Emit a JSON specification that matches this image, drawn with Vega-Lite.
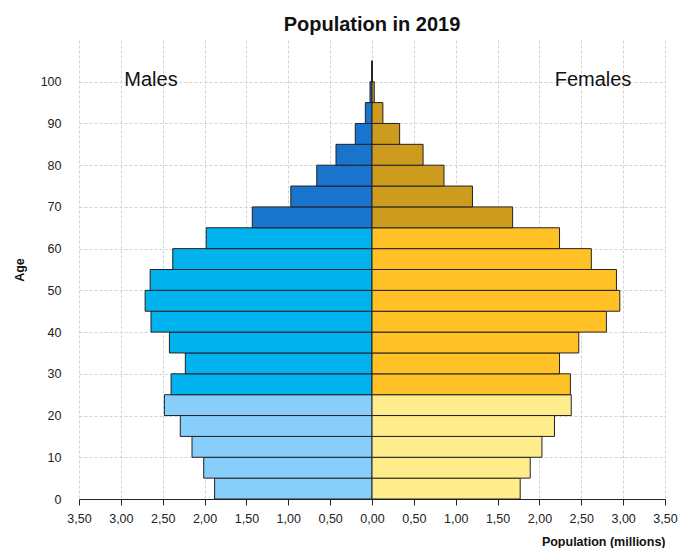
{
  "$schema": "https://vega.github.io/schema/vega-lite/v6.json",
  "autosize": {"type": "none"},
  "width": 586,
  "height": 459,
  "padding": {"left": 79, "top": 40, "right": 14, "bottom": 49},
  "title": {"text": "Population in 2019", "font": "Liberation Sans", "fontSize": 20, "fontWeight": "bold", "color": "#111111", "anchor": "middle", "baseline": "alphabetic", "offset": -11},
  "config": {"view": {"stroke": null}, "font": "Liberation Sans"},
  "datasets": {
    "pop": [
      {"age_start": 0, "age_end": 5, "sex": "Males", "group": "Males 0-24", "value": -1.88},
      {"age_start": 5, "age_end": 10, "sex": "Males", "group": "Males 0-24", "value": -2.01},
      {"age_start": 10, "age_end": 15, "sex": "Males", "group": "Males 0-24", "value": -2.15},
      {"age_start": 15, "age_end": 20, "sex": "Males", "group": "Males 0-24", "value": -2.29},
      {"age_start": 20, "age_end": 25, "sex": "Males", "group": "Males 0-24", "value": -2.48},
      {"age_start": 25, "age_end": 30, "sex": "Males", "group": "Males 25-64", "value": -2.40},
      {"age_start": 30, "age_end": 35, "sex": "Males", "group": "Males 25-64", "value": -2.23},
      {"age_start": 35, "age_end": 40, "sex": "Males", "group": "Males 25-64", "value": -2.42},
      {"age_start": 40, "age_end": 45, "sex": "Males", "group": "Males 25-64", "value": -2.64},
      {"age_start": 45, "age_end": 50, "sex": "Males", "group": "Males 25-64", "value": -2.71},
      {"age_start": 50, "age_end": 55, "sex": "Males", "group": "Males 25-64", "value": -2.65},
      {"age_start": 55, "age_end": 60, "sex": "Males", "group": "Males 25-64", "value": -2.38},
      {"age_start": 60, "age_end": 65, "sex": "Males", "group": "Males 25-64", "value": -1.98},
      {"age_start": 65, "age_end": 70, "sex": "Males", "group": "Males 65+", "value": -1.43},
      {"age_start": 70, "age_end": 75, "sex": "Males", "group": "Males 65+", "value": -0.97},
      {"age_start": 75, "age_end": 80, "sex": "Males", "group": "Males 65+", "value": -0.66},
      {"age_start": 80, "age_end": 85, "sex": "Males", "group": "Males 65+", "value": -0.43},
      {"age_start": 85, "age_end": 90, "sex": "Males", "group": "Males 65+", "value": -0.20},
      {"age_start": 90, "age_end": 95, "sex": "Males", "group": "Males 65+", "value": -0.08},
      {"age_start": 95, "age_end": 100, "sex": "Males", "group": "Males 65+", "value": -0.024},
      {"age_start": 100, "age_end": 105, "sex": "Males", "group": "Males 65+", "value": -0.003},
      {"age_start": 0, "age_end": 5, "sex": "Females", "group": "Females 0-24", "value": 1.77},
      {"age_start": 5, "age_end": 10, "sex": "Females", "group": "Females 0-24", "value": 1.89},
      {"age_start": 10, "age_end": 15, "sex": "Females", "group": "Females 0-24", "value": 2.03},
      {"age_start": 15, "age_end": 20, "sex": "Females", "group": "Females 0-24", "value": 2.18},
      {"age_start": 20, "age_end": 25, "sex": "Females", "group": "Females 0-24", "value": 2.38},
      {"age_start": 25, "age_end": 30, "sex": "Females", "group": "Females 25-64", "value": 2.37},
      {"age_start": 30, "age_end": 35, "sex": "Females", "group": "Females 25-64", "value": 2.24},
      {"age_start": 35, "age_end": 40, "sex": "Females", "group": "Females 25-64", "value": 2.47},
      {"age_start": 40, "age_end": 45, "sex": "Females", "group": "Females 25-64", "value": 2.80},
      {"age_start": 45, "age_end": 50, "sex": "Females", "group": "Females 25-64", "value": 2.96},
      {"age_start": 50, "age_end": 55, "sex": "Females", "group": "Females 25-64", "value": 2.92},
      {"age_start": 55, "age_end": 60, "sex": "Females", "group": "Females 25-64", "value": 2.62},
      {"age_start": 60, "age_end": 65, "sex": "Females", "group": "Females 25-64", "value": 2.24},
      {"age_start": 65, "age_end": 70, "sex": "Females", "group": "Females 65+", "value": 1.68},
      {"age_start": 70, "age_end": 75, "sex": "Females", "group": "Females 65+", "value": 1.20},
      {"age_start": 75, "age_end": 80, "sex": "Females", "group": "Females 65+", "value": 0.86},
      {"age_start": 80, "age_end": 85, "sex": "Females", "group": "Females 65+", "value": 0.61},
      {"age_start": 85, "age_end": 90, "sex": "Females", "group": "Females 65+", "value": 0.33},
      {"age_start": 90, "age_end": 95, "sex": "Females", "group": "Females 65+", "value": 0.13},
      {"age_start": 95, "age_end": 100, "sex": "Females", "group": "Females 65+", "value": 0.027},
      {"age_start": 100, "age_end": 105, "sex": "Females", "group": "Females 65+", "value": 0.005}
    ]
  },
  "layer": [
    {
      "data": {"name": "pop"},
      "mark": {"type": "rect", "stroke": "#222222", "strokeWidth": 1},
      "encoding": {
        "x": {
          "field": "value",
          "type": "quantitative",
          "scale": {"domain": [-3.5, 3.5], "nice": false, "zero": false},
          "axis": {
            "title": "Population (millions)",
            "titleFont": "Liberation Sans",
            "titleFontSize": 12.5,
            "titleFontWeight": "bold",
            "titleColor": "#111111",
            "titleAnchor": "end",
            "titleAlign": "right",
            "titleX": 586,
            "titleY": 46,
            "titleBaseline": "alphabetic",
            "values": [-3.5, -3, -2.5, -2, -1.5, -1, -0.5, 0, 0.5, 1, 1.5, 2, 2.5, 3, 3.5],
            "labelExpr": "replace(format(abs(datum.value), '.2f'), '.', ',')",
            "labelFont": "Liberation Sans",
            "labelFontSize": 12.5,
            "labelColor": "#222222",
            "labelPadding": 7,
            "labelFlush": false,
            "labelOverlap": false,
            "tickSize": 6,
            "tickColor": "#222222",
            "domainColor": "#222222",
            "grid": true,
            "gridColor": "#d3d3d3",
            "gridDash": [3, 2]
          }
        },
        "x2": {"datum": 0},
        "y": {
          "field": "age_start",
          "type": "quantitative",
          "scale": {"domain": [0, 110], "nice": false},
          "axis": {
            "title": "Age",
            "titleFont": "Liberation Sans",
            "titleFontSize": 12.5,
            "titleFontWeight": "bold",
            "titleColor": "#111111",
            "titleAngle": -90,
            "titleAlign": "center",
            "titleBaseline": "alphabetic",
            "titleX": -56,
            "titleY": 229.5,
            "values": [0, 10, 20, 30, 40, 50, 60, 70, 80, 90, 100],
            "labelFont": "Liberation Sans",
            "labelFontSize": 12.5,
            "labelColor": "#222222",
            "labelPadding": 18,
            "ticks": false,
            "domain": false,
            "grid": true,
            "gridColor": "#d3d3d3",
            "gridDash": [3, 2]
          }
        },
        "y2": {"field": "age_end"},
        "color": {
          "field": "group",
          "type": "nominal",
          "scale": {
            "domain": ["Males 0-24", "Males 25-64", "Males 65+", "Females 0-24", "Females 25-64", "Females 65+"],
            "range": ["#87CEFA", "#00B2EE", "#1874CD", "#FFEC8B", "#FFC125", "#CD9B1D"]
          },
          "legend": null
        }
      }
    },
    {
      "mark": {"type": "rule", "color": "#111111", "strokeWidth": 1},
      "encoding": {
        "x": {"datum": -3.5, "type": "quantitative"},
        "y": {"datum": 0, "type": "quantitative"},
        "y2": {"datum": 100}
      }
    },
    {
      "data": {"values": [{"label": "Males"}]},
      "mark": {"type": "text", "font": "Liberation Sans", "fontSize": 20, "align": "center", "baseline": "alphabetic", "color": "#111111"},
      "encoding": {
        "x": {"datum": -2.64, "type": "quantitative"},
        "y": {"datum": 99, "type": "quantitative"},
        "text": {"field": "label", "type": "nominal"}
      }
    },
    {
      "data": {"values": [{"label": "Females"}]},
      "mark": {"type": "text", "font": "Liberation Sans", "fontSize": 20, "align": "center", "baseline": "alphabetic", "color": "#111111"},
      "encoding": {
        "x": {"datum": 2.64, "type": "quantitative"},
        "y": {"datum": 99, "type": "quantitative"},
        "text": {"field": "label", "type": "nominal"}
      }
    }
  ]
}
